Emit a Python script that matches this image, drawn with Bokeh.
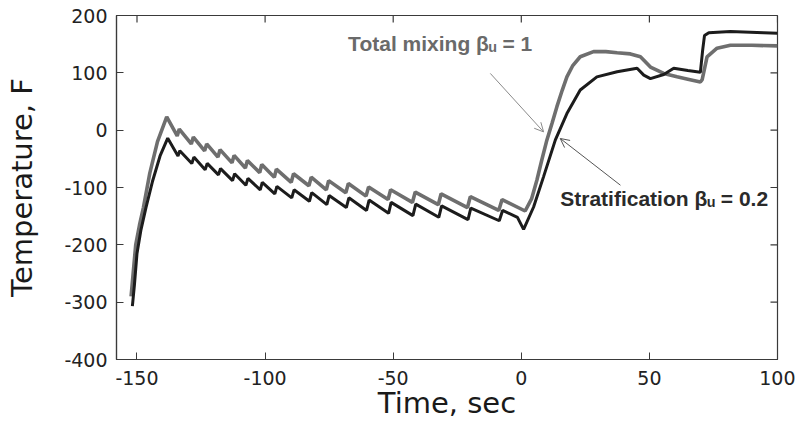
import math
from bokeh.plotting import figure
from bokeh.models import Range1d, Label, Arrow, OpenHead, FixedTicker, PrintfTickFormatter
from bokeh.embed import file_html
from bokeh.resources import INLINE

# ---- data ----
mix_t = [-152.3, -151.5, -150.5, -149.0, -147.5, -145.0, -142.0, -138.4,
         -134.3, -133.5, -128.8, -128.0, -123.6, -122.8, -118.4, -117.6,
         -112.9, -112.1, -107.7, -106.9, -102.1, -101.3, -96.4, -95.6,
         -89.8, -88.9, -82.9, -82.0, -76.1, -75.2, -68.5, -67.5,
         -60.6, -59.6, -52.0, -51.0, -42.5, -41.4, -32.4, -31.3,
         -21.0, -19.9, -8.8, -7.5, 1.5,
         4.0, 6.1, 8.0, 10.0, 12.0, 13.9, 16.0, 17.8, 20.0, 23.0, 28.2, 33.0,
         37.4, 42.6, 46.5, 50.4, 55.6, 60.8, 65.0, 69.9, 70.6, 72.5, 76.4,
         81.6, 90.0, 100.0]
mix_T = [-290, -250, -200, -165, -135, -75, -20, 23,
         -10, 2, -24, -12, -36, -24, -47, -34,
         -57, -44, -66, -53, -74, -60, -82, -68,
         -91, -76, -97, -82, -104, -88, -109, -93,
         -115, -99, -121, -104, -126, -108, -130, -111,
         -135, -116, -140, -121, -141,
         -120, -87, -52, -17, 12, 41, 70, 93, 112, 128, 137, 137,
         135, 133, 128, 110, 99, 93, 89, 84, 88, 128, 143,
         148, 148, 147]

strat_t = [-151.8, -151.0, -150.0, -148.5, -146.5, -144.0, -141.0, -138.0,
           -134.0, -133.3, -128.6, -127.8, -123.4, -122.6, -118.2, -117.4,
           -112.7, -111.9, -107.5, -106.7, -101.9, -101.1, -96.2, -95.4,
           -89.6, -88.7, -82.7, -81.8, -75.9, -75.0, -68.3, -67.3,
           -60.4, -59.4, -51.8, -50.8, -42.3, -41.2, -32.2, -31.1,
           -20.8, -19.7, -8.6, -7.3, -1.5, 0.9,
           4.8, 8.7, 13.3, 17.8, 23.0, 29.5, 37.4, 45.2, 47.8, 50.4, 55.6,
           59.5, 65.0, 69.9, 70.8, 71.5, 73.2, 81.6, 94.6, 100.0]
strat_T = [-307, -270, -215, -175, -135, -90, -45, -14,
           -45, -36, -58, -47, -69, -58, -78, -67,
           -88, -76, -96, -84, -104, -91, -111, -98,
           -118, -104, -124, -109, -130, -114, -135, -118,
           -140, -122, -145, -126, -149, -129, -152, -132,
           -156, -136, -158, -140, -152, -173,
           -134, -81, -17, 29, 70, 93, 102, 108, 96, 90, 97,
           108, 104, 101, 140, 165, 170, 172, 170, 169]

x_min, x_max = -158, 100
y_min, y_max = -400, 200
x_ticks = [-150, -100, -50, 0, 50, 100]
y_ticks = [-400, -300, -200, -100, 0, 100, 200]

x_title = "Time, sec"
y_title = "Temperature, F"
mix_label = "Total mixing βᵤ = 1"
strat_label = "Stratification βᵤ = 0.2"
mix_label_pos = (-67.6, 151)
strat_label_pos = (15.2, -120)
mix_arrow = [(-12.1, 99.0), (8.7, -3.0)]
strat_arrow = [(38.7, -96.0), (15.2, -14.5)]

# ---- figure ----
p = figure(width=795, height=422, x_range=Range1d(x_min, x_max), y_range=Range1d(y_min, y_max),
           output_backend="svg", toolbar_location=None,
           min_border_left=116, min_border_right=18, min_border_top=15, min_border_bottom=63)
p.grid.visible = False
AX_COL = "#3a3a3a"
p.outline_line_color = AX_COL
p.outline_line_width = 1.2
p.background_fill_color = "white"

p.line(mix_t, mix_T, line_color="#6e6e6e", line_width=3.6)
p.line(strat_t, strat_T, line_color="#1c1c1c", line_width=3.0)

for ax, ticks in ((p.xaxis[0], x_ticks), (p.yaxis[0], y_ticks)):
    ax.ticker = FixedTicker(ticks=ticks)
    ax.formatter = PrintfTickFormatter(format="%d")
    ax.axis_line_color = AX_COL
    ax.axis_line_width = 1.2
    ax.major_tick_line_color = AX_COL
    ax.major_tick_in = 7
    ax.major_tick_out = 0
    ax.minor_tick_line_color = None
    ax.major_label_text_font = "DejaVu Sans"
    ax.major_label_text_font_size = "19px"
    ax.major_label_text_color = "#222222"
    ax.axis_label_text_font = "DejaVu Sans"
    ax.axis_label_text_font_style = "normal"
    ax.axis_label_text_color = "#1a1a1a"

xa = p.xaxis[0]
xa.axis_label = x_title
xa.axis_label_text_font_size = "29px"
xa.major_label_standoff = 11
xa.axis_label_standoff = -2

ya = p.yaxis[0]
ya.axis_label = y_title
ya.axis_label_text_font_size = "29px"
ya.major_label_standoff = 9
ya.axis_label_standoff = 22

# inward ticks on the top and right edges of the frame
p.ray(x=x_ticks, y=[y_max] * len(x_ticks), length=7, angle=-math.pi / 2,
      length_units="screen", line_color=AX_COL, line_width=1.2)
p.ray(x=[x_max] * len(y_ticks), y=y_ticks, length=7, angle=math.pi,
      length_units="screen", line_color=AX_COL, line_width=1.2)

# ---- annotations ----
p.add_layout(Label(x=mix_label_pos[0], y=mix_label_pos[1], text=mix_label,
                   text_font="Liberation Sans", text_font_style="bold",
                   text_font_size="21px", text_color="#6a6a6a", text_baseline="alphabetic"))
p.add_layout(Label(x=strat_label_pos[0], y=strat_label_pos[1], text=strat_label,
                   text_font="Liberation Sans", text_font_style="bold",
                   text_font_size="21px", text_color="#2a2a2a", text_baseline="alphabetic"))
p.add_layout(Arrow(x_start=mix_arrow[0][0], y_start=mix_arrow[0][1],
                   x_end=mix_arrow[1][0], y_end=mix_arrow[1][1],
                   line_color="#8a8a8a", line_width=1,
                   end=OpenHead(size=9, line_color="#8a8a8a", line_width=1)))
p.add_layout(Arrow(x_start=strat_arrow[0][0], y_start=strat_arrow[0][1],
                   x_end=strat_arrow[1][0], y_end=strat_arrow[1][1],
                   line_color="#555555", line_width=1,
                   end=OpenHead(size=9, line_color="#555555", line_width=1)))

open("out.html", "w").write(file_html(p, INLINE))
